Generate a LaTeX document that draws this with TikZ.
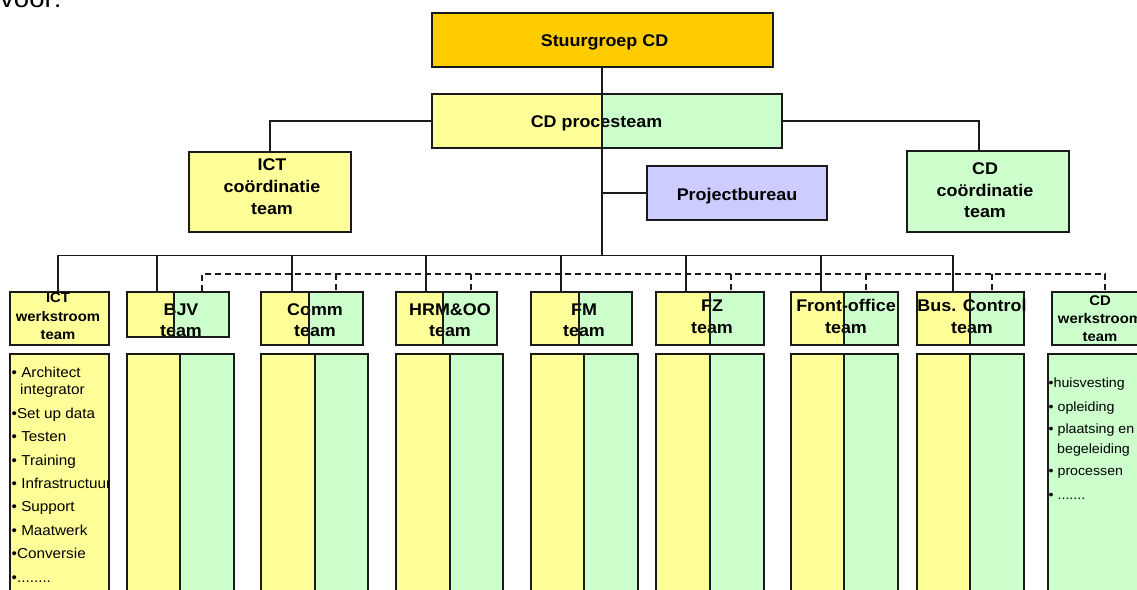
\documentclass[tikz,border=0pt]{standalone}
\usepackage{fontspec}
\setmainfont{Liberation Sans}[FakeStretch=1.06]
\usetikzlibrary{fit}

\definecolor{paleyellow}{HTML}{FFFF99}
\definecolor{palegreen}{HTML}{CCFFCC}
\definecolor{gold}{HTML}{FFCC00}
\definecolor{lavender}{HTML}{CCCCFF}
\definecolor{ink}{HTML}{1A1A1A}

\tikzset{
  frame/.style={draw=ink, line width=1.6pt, inner sep=0pt},
  wire/.style={draw=ink, line width=1.5pt},
  dashwire/.style={draw=ink, line width=1.8pt, dash pattern=on 6pt off 4pt},
  head/.style={font=\bfseries\fontsize{16.9}{20}\selectfont, inner sep=0pt, anchor=base},
  smallhead/.style={font=\bfseries\fontsize{14}{16}\selectfont, inner sep=0pt, anchor=base},
  item/.style={font=\fontsize{14.4}{16}\selectfont, inner sep=0pt, anchor=mid west},
  cditem/.style={font=\fontsize{13.4}{15}\selectfont, inner sep=0pt, anchor=mid west},
}

% a filled rectangle with a named frame node over it
\newcommand\PlainBox[6]{%
  \fill[#6] (#2,#3) rectangle (#4,#5);
  \node[frame, fit={(#2,#3) (#4,#5)}] (#1) {};}
% yellow/green rectangle split at x = #6
\newcommand\TwoToneBox[6]{%
  \fill[paleyellow] (#2,#3) rectangle (#6,#5);
  \fill[palegreen] (#6,#3) rectangle (#4,#5);
  \node[frame, fit={(#2,#3) (#4,#5)}] (#1) {};
  \coordinate (#1-split-n) at (#6,#3);
  \coordinate (#1-split-s) at (#6,#5);}

\begin{document}
\begin{tikzpicture}[x=1pt,y=-1pt]
\useasboundingbox (0,0) rectangle (1137,589);

\node[font=\fontsize{26}{30}\selectfont, inner sep=0pt, anchor=base west] (intro) at (0,8) {voor:};

% upper management boxes
\PlainBox{stuur}{432}{13}{773}{67}{gold}
\TwoToneBox{proc}{432}{94}{782}{148}{602}
\PlainBox{ictc}{189}{152}{351}{232}{paleyellow}
\PlainBox{pb}{647}{166}{827}{220}{lavender}
\PlainBox{cdc}{907}{151}{1069}{232}{palegreen}

% team headers
\PlainBox{ictw}{10}{292}{109}{345}{paleyellow}
\TwoToneBox{bjv}{127}{292}{229}{337}{174}
\TwoToneBox{comm}{261}{292}{363}{345}{309}
\TwoToneBox{hrm}{396}{292}{497}{345}{443}
\TwoToneBox{fm}{531}{292}{632}{345}{579}
\TwoToneBox{fz}{656}{292}{764}{345}{710}
\TwoToneBox{front}{791}{292}{898}{345}{844}
\TwoToneBox{bus}{917}{292}{1024}{345}{970}
\PlainBox{cdw}{1052}{292}{1160}{345}{palegreen}

% team columns
\PlainBox{ictcol}{10}{354}{109}{600}{paleyellow}
\TwoToneBox{bjvcol}{127}{354}{234}{600}{180}
\TwoToneBox{commcol}{261}{354}{368}{600}{315}
\TwoToneBox{hrmcol}{396}{354}{503}{600}{450}
\TwoToneBox{fmcol}{531}{354}{638}{600}{584}
\TwoToneBox{fzcol}{656}{354}{764}{600}{710}
\TwoToneBox{frontcol}{791}{354}{898}{600}{844}
\TwoToneBox{buscol}{917}{354}{1024}{600}{970}
\PlainBox{cdcol}{1048}{354}{1160}{600}{palegreen}

% labels of the upper boxes
\node[head] (stuur-t) at (604.5,46.7) {Stuurgroep CD};
\node[head] (proc-t) at (596.5,127.7) {CD procesteam};
\node[head] (ictc-t1) at (272,170.7) {ICT};
\node[head] (ictc-t2) at (272,192.3) {coördinatie};
\node[head] (ictc-t3) at (272,214) {team};
\node[head] (pb-t) at (737,200) {Projectbureau};
\node[head] (cdc-t1) at (985,174) {CD};
\node[head] (cdc-t2) at (985,196) {coördinatie};
\node[head] (cdc-t3) at (985,217.7) {team};

% labels of the team headers
\node[smallhead] (ictw-t1) at (58,302.5) {ICT};
\node[smallhead] (ictw-t2) at (58,321) {werkstroom};
\node[smallhead] (ictw-t3) at (58,339.5) {team};
\node[head] (bjv-t1) at (181,315.5) {BJV};
\node[head] (bjv-t2) at (181,336) {team};
\node[head] (comm-t1) at (315,315.5) {Comm};
\node[head] (comm-t2) at (315,336) {team};
\node[head] (hrm-t1) at (450,315.5) {HRM\&OO};
\node[head] (hrm-t2) at (450,336) {team};
\node[head] (fm-t1) at (584,315.5) {FM};
\node[head] (fm-t2) at (584,336) {team};
\node[head] (fz-t1) at (712,311) {FZ};
\node[head] (fz-t2) at (712,333) {team};
\node[head] (front-t1) at (846,311) {Front-office};
\node[head] (front-t2) at (846,333) {team};
\node[head] (bus-t1) at (972,311) {Bus. Control};
\node[head] (bus-t2) at (972,333) {team};
\node[smallhead] (cdw-t1) at (1100,305) {CD};
\node[smallhead] (cdw-t2) at (1100,323) {werkstroom};
\node[smallhead] (cdw-t3) at (1100,341) {team};

% ICT work stream tasks
\begin{scope}
  \clip (10,354) rectangle (109,600);
  \node[item] (ict-i1)  at (11.5,375) {• Architect};
  \node[item] (ict-i1b) at (20,392) {integrator};
  \node[item] (ict-i2)  at (11.5,416) {•Set up data};
  \node[item] (ict-i3)  at (11.5,439) {• Testen};
  \node[item] (ict-i4)  at (11.5,463) {• Training};
  \node[item] (ict-i5)  at (11.5,486) {• Infrastructuur};
  \node[item] (ict-i6)  at (11.5,509) {• Support};
  \node[item] (ict-i7)  at (11.5,533) {• Maatwerk};
  \node[item] (ict-i8)  at (11.5,556) {•Conversie};
  \node[item] (ict-i9)  at (11.5,580) {•........};
\end{scope}

% CD work stream tasks
\node[cditem] (cd-i1)  at (1048.5,385) {•huisvesting};
\node[cditem] (cd-i2)  at (1048.5,409) {• opleiding};
\node[cditem] (cd-i3)  at (1048.5,431) {• plaatsing en};
\node[cditem] (cd-i3b) at (1057,451) {begeleiding};
\node[cditem] (cd-i4)  at (1048.5,473) {• processen};
\node[cditem] (cd-i5)  at (1048.5,497) {• .......};

% colour split lines
\foreach \b in {bjv,comm,hrm,fm,fz,front,bus,bjvcol,commcol,hrmcol,fmcol,fzcol,frontcol,buscol}
  \draw[wire] (\b-split-n) -- (\b-split-s);

% reporting lines
\draw[wire] (proc.west) -- (proc.west -| ictc.north) -- (ictc.north);
\coordinate (cdcTap) at (979,151);
\draw[wire] (proc.east) -- (proc.east -| cdcTap) -- (cdcTap |- cdc.north);
\coordinate (busW) at (58,255.5);
\coordinate (busE) at (953,255.5);
\coordinate (stem) at (602,255.5);
\draw[wire] (stuur.south -| stem) -- (stem);
\draw[wire] (pb.west) -- (pb.west -| stem);
\draw[wire] (ictw.north -| busW) -- (busW) -- (busE) -- (bus.north -| busE);
\foreach \n/\x in {bjv/157, comm/292, hrm/426, fm/561, fz/686, front/821} {
  \coordinate (tap) at (\x,255.5);
  \draw[wire] (tap) -- (tap |- \n.north);
}

% dashed coordination line
\coordinate (dashW) at (202,274);
\coordinate (dashE) at (1105,274);
\draw[dashwire] (bjv.north -| dashW) -- (dashW) -- (dashE) -- (cdw.north -| dashE);
\foreach \n/\x in {comm/336, hrm/471, fz/731, front/866, bus/992} {
  \coordinate (drop) at (\x,274);
  \draw[dashwire] (drop) -- (drop |- \n.north);
}
\end{tikzpicture}
\end{document}
